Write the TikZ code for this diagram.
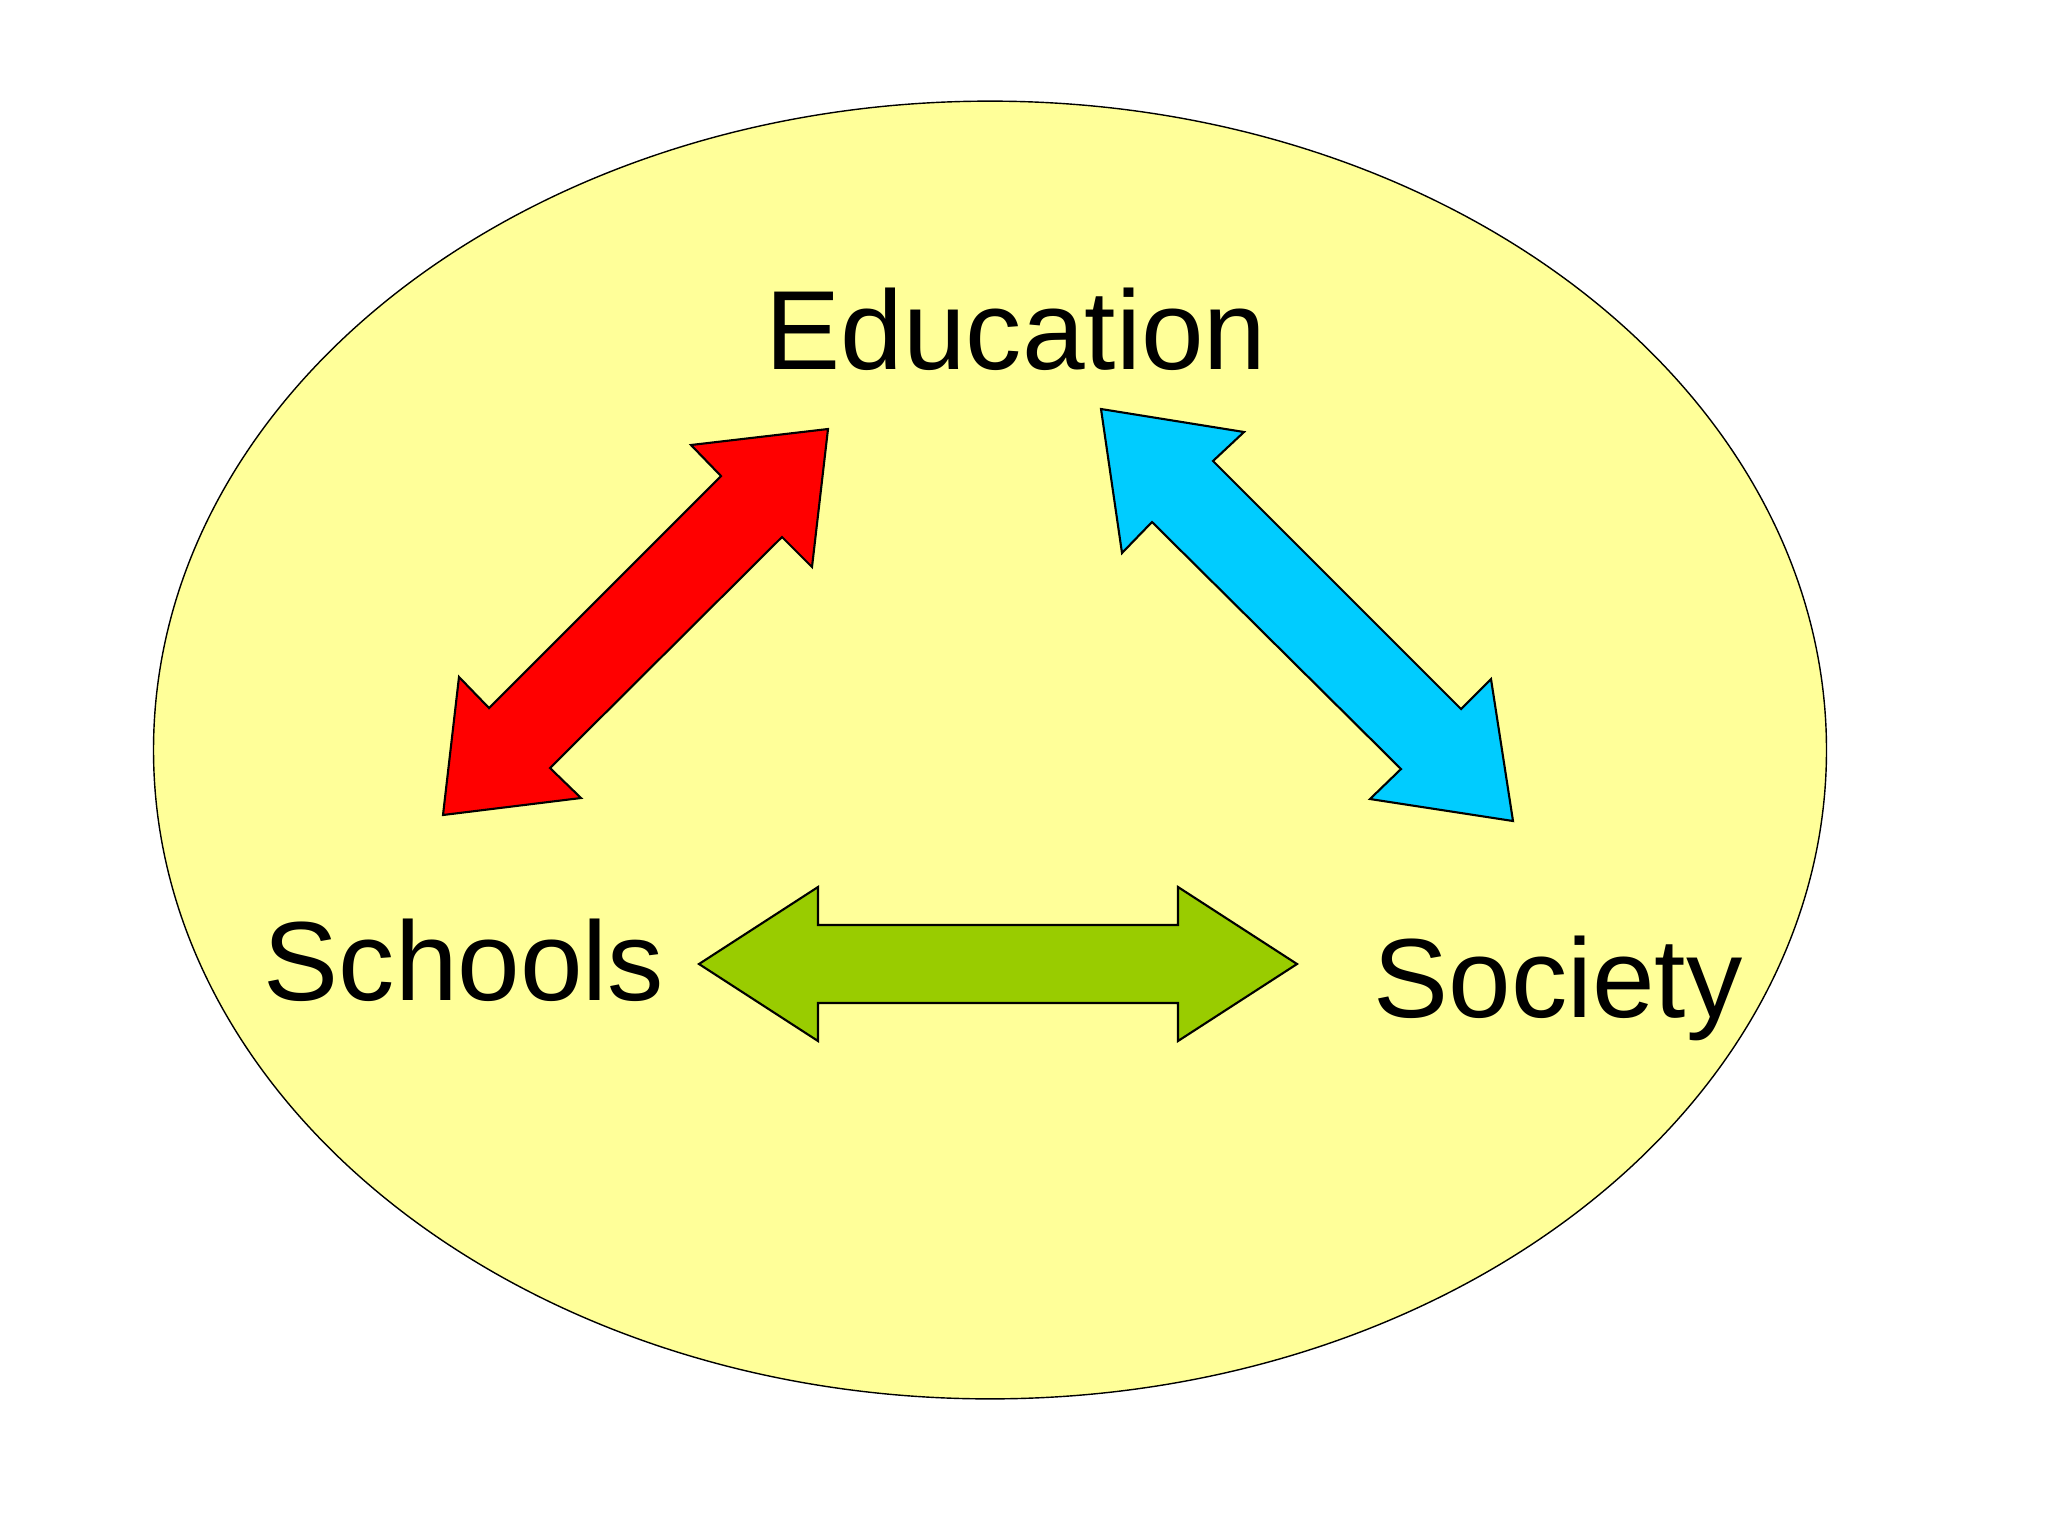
\documentclass[tikz,border=0pt]{standalone}
\usepackage{fontspec}
\setmainfont{Liberation Sans}
\usepackage{xcolor}
\usetikzlibrary{shapes.geometric}

\definecolor{fieldyellow}{RGB}{255,255,153}
\definecolor{arrowred}{RGB}{255,0,0}
\definecolor{arrowblue}{RGB}{0,204,255}
\definecolor{arrowgreen}{RGB}{153,204,0}

\begin{document}
\begin{tikzpicture}[
  x=0.01cm, y=-0.01cm,
  field/.style={ellipse, draw, fill=fieldyellow, line width=0.4pt, minimum width=16.72cm, minimum height=12.97cm, inner sep=0pt},
  word/.style={anchor=base, inner sep=0pt, font=\fontsize{32}{38}\selectfont},
  blockarrow/.style={draw, line width=0.6pt, line join=miter}
]
\useasboundingbox[fill=white] (0,0) rectangle (2048,1536);
\node[field] (field) at (990,750) {};
\node[word] (edu) at (1016,369) {Education};
\node[word] (schools) at (464,1000) {Schools};
\node[word] (society) at (1558,1017) {Society};
% Education <-> Schools
\draw[blockarrow, fill=arrowred] (828,429) -- (812,567) -- (782,537) -- (550,768) -- (581,798)
  -- (443,815) -- (459,677) -- (489,708) -- (721,476) -- (691,445) -- cycle;
% Education <-> Society
\draw[blockarrow, fill=arrowblue] (1101,409) -- (1244,432) -- (1213,461) -- (1461,709) -- (1491,679)
  -- (1513,821) -- (1370,799) -- (1401,769) -- (1152,522) -- (1122,553) -- cycle;
% Schools <-> Society
\draw[blockarrow, fill=arrowgreen] (699,964) -- (818,887) -- (818,925) -- (1178,925) -- (1178,887)
  -- (1297,964) -- (1178,1041) -- (1178,1003) -- (818,1003) -- (818,1041) -- cycle;
\end{tikzpicture}
\end{document}
